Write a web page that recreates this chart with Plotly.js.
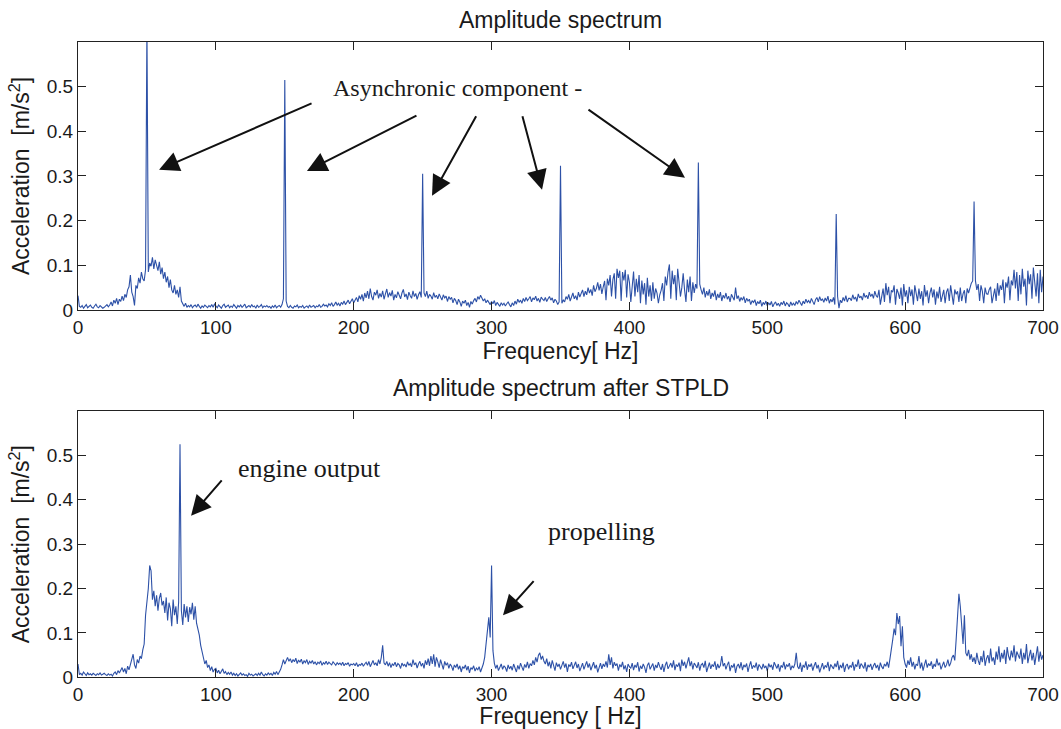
<!DOCTYPE html>
<html>
<head>
<meta charset="utf-8">
<script src="https://cdn.plot.ly/plotly-3.0.1.min.js"></script>
<style>html,body{margin:0;padding:0;background:#fff;}#chart{width:1061px;height:729px;}</style>
</head>
<body>
<div id="chart"></div>
<script>
// Frequency axis: 0 .. 700 Hz, one value per Hz
const freqStart = 0;
const freqStep = 1;
const xTickVals = [0, 100, 200, 300, 400, 500, 600, 700];
const yTickVals = [0, 0.1, 0.2, 0.3, 0.4, 0.5];
const yTickText = ['0', '0.1', '0.2', '0.3', '0.4', '0.5'];

const topTitle = 'Amplitude spectrum';
const bottomTitle = 'Amplitude spectrum after STPLD';
const topXTitle = 'Frequency[ Hz]';
const bottomXTitle = 'Frequency [ Hz]';
const yTitle = 'Acceleration&nbsp; [m/s<sup>2</sup>]';

// Amplitude spectrum (m/s^2), 0..700 Hz
const topAccel = [
0.032,0.008,0.006,0.010,0.004,0.009,0.012,0.005,0.007,0.011,
0.006,0.004,0.009,0.013,0.007,0.005,0.010,0.008,0.004,0.006,
0.009,0.012,0.007,0.011,0.018,0.009,0.022,0.015,0.026,0.012,
0.024,0.019,0.031,0.021,0.035,0.028,0.045,0.052,0.078,0.040,
0.030,0.010,0.055,0.048,0.072,0.060,0.085,0.070,0.065,0.090,
0.640,0.085,0.105,0.098,0.118,0.092,0.112,0.100,0.088,0.108,
0.080,0.095,0.070,0.085,0.062,0.075,0.050,0.068,0.045,0.038,
0.055,0.035,0.045,0.028,0.052,0.020,0.012,0.008,0.015,0.006,
0.010,0.007,0.012,0.005,0.009,0.011,0.006,0.013,0.008,0.004,
0.009,0.006,0.011,0.008,0.005,0.010,0.007,0.012,0.006,0.013,
0.009,0.005,0.011,0.007,0.004,0.010,0.013,0.006,0.008,0.011,
0.005,0.009,0.006,0.012,0.008,0.004,0.010,0.007,0.011,0.006,
0.009,0.013,0.005,0.008,0.010,0.006,0.012,0.007,0.009,0.004,
0.011,0.006,0.008,0.012,0.005,0.009,0.007,0.010,0.006,0.008,
0.004,0.009,0.006,0.011,0.005,0.008,0.010,0.006,0.012,0.025,
0.515,0.020,0.008,0.005,0.010,0.006,0.004,0.009,0.007,0.011,
0.005,0.008,0.006,0.010,0.004,0.007,0.009,0.005,0.011,0.006,
0.008,0.010,0.005,0.009,0.007,0.012,0.006,0.008,0.013,0.009,
0.011,0.007,0.014,0.010,0.016,0.008,0.012,0.018,0.011,0.015,
0.009,0.017,0.013,0.020,0.012,0.016,0.022,0.014,0.019,0.025,
0.016,0.021,0.028,0.018,0.032,0.024,0.035,0.020,0.038,0.027,
0.042,0.025,0.048,0.030,0.022,0.040,0.033,0.045,0.026,0.037,
0.029,0.043,0.024,0.036,0.047,0.028,0.039,0.031,0.044,0.022,
0.035,0.027,0.041,0.033,0.025,0.038,0.046,0.029,0.036,0.023,
0.040,0.032,0.026,0.043,0.030,0.037,0.024,0.034,0.041,0.028,
0.305,0.038,0.030,0.042,0.026,0.035,0.031,0.024,0.039,0.028,
0.033,0.025,0.036,0.029,0.022,0.034,0.027,0.031,0.019,0.030,
0.024,0.028,0.016,0.026,0.021,0.012,0.024,0.018,0.008,0.020,
0.015,0.022,0.010,0.017,0.006,0.019,0.013,0.021,0.026,0.018,
0.030,0.024,0.033,0.027,0.020,0.025,0.016,0.022,0.018,0.012,
0.019,0.014,0.021,0.010,0.017,0.013,0.008,0.016,0.011,0.015,
0.009,0.014,0.018,0.012,0.007,0.016,0.010,0.020,0.013,0.024,
0.017,0.022,0.015,0.026,0.019,0.028,0.021,0.025,0.030,0.018,
0.027,0.023,0.031,0.020,0.026,0.017,0.029,0.024,0.021,0.028,
0.019,0.025,0.030,0.022,0.027,0.016,0.024,0.020,0.012,0.018,
0.323,0.015,0.022,0.018,0.030,0.024,0.035,0.020,0.028,0.038,
0.025,0.032,0.022,0.040,0.029,0.036,0.045,0.030,0.042,0.034,
0.050,0.038,0.046,0.032,0.055,0.041,0.048,0.062,0.044,0.058,
0.036,0.052,0.065,0.022,0.070,0.055,0.078,0.030,0.068,0.082,
0.025,0.092,0.072,0.088,0.020,0.085,0.066,0.090,0.028,0.080,
0.062,0.018,0.048,0.086,0.030,0.070,0.040,0.078,0.015,0.066,
0.035,0.060,0.012,0.072,0.030,0.055,0.020,0.062,0.025,0.048,
0.038,0.015,0.034,0.044,0.060,0.020,0.075,0.055,0.085,0.102,
0.025,0.088,0.058,0.078,0.022,0.092,0.062,0.030,0.050,0.082,
0.045,0.018,0.068,0.040,0.075,0.020,0.062,0.038,0.058,0.048,
0.330,0.058,0.045,0.035,0.050,0.028,0.042,0.032,0.046,0.025,
0.038,0.030,0.044,0.022,0.036,0.027,0.040,0.020,0.033,0.026,
0.038,0.024,0.031,0.018,0.035,0.027,0.022,0.050,0.025,0.032,
0.019,0.028,0.022,0.030,0.016,0.026,0.020,0.024,0.012,0.021,
0.017,0.023,0.010,0.019,0.014,0.022,0.008,0.017,0.012,0.020,
0.009,0.016,0.011,0.019,0.007,0.014,0.018,0.010,0.015,0.008,
0.017,0.012,0.020,0.009,0.016,0.013,0.007,0.018,0.011,0.015,
0.010,0.019,0.013,0.022,0.016,0.010,0.020,0.014,0.024,0.017,
0.021,0.015,0.026,0.019,0.012,0.023,0.028,0.018,0.030,0.021,
0.025,0.017,0.027,0.020,0.031,0.015,0.024,0.018,0.028,0.012,
0.215,0.030,0.004,0.022,0.016,0.028,0.020,0.032,0.018,0.026,
0.026,0.021,0.034,0.024,0.029,0.019,0.036,0.027,0.031,0.022,
0.038,0.028,0.033,0.025,0.040,0.030,0.036,0.026,0.042,0.032,
0.028,0.045,0.012,0.030,0.048,0.018,0.060,0.033,0.052,0.015,
0.044,0.040,0.055,0.012,0.047,0.038,0.025,0.050,0.010,0.058,
0.030,0.044,0.015,0.052,0.031,0.046,0.012,0.055,0.040,0.020,
0.048,0.025,0.042,0.010,0.056,0.030,0.044,0.015,0.038,0.050,
0.028,0.046,0.012,0.041,0.026,0.052,0.018,0.030,0.045,0.015,
0.040,0.048,0.020,0.055,0.038,0.012,0.046,0.035,0.042,0.018,
0.050,0.020,0.036,0.044,0.015,0.048,0.038,0.052,0.060,0.065,
0.243,0.065,0.045,0.058,0.020,0.055,0.042,0.015,0.050,0.036,
0.035,0.046,0.052,0.015,0.028,0.048,0.020,0.060,0.032,0.055,
0.045,0.068,0.015,0.062,0.050,0.075,0.022,0.066,0.055,0.090,
0.048,0.085,0.020,0.078,0.035,0.092,0.052,0.070,0.010,0.088,
0.058,0.080,0.025,0.095,0.062,0.030,0.082,0.015,0.090,0.040,
0.075
];

// Amplitude spectrum after STPLD (m/s^2), 0..700 Hz
const bottomAccel = [
0.030,0.006,0.009,0.005,0.012,0.007,0.004,0.010,0.006,0.008,
0.005,0.009,0.007,0.004,0.008,0.006,0.010,0.005,0.007,0.009,
0.006,0.004,0.008,0.005,0.007,0.003,0.009,0.012,0.006,0.015,
0.010,0.018,0.022,0.012,0.020,0.008,0.025,0.017,0.030,0.038,
0.052,0.028,0.020,0.040,0.032,0.048,0.042,0.062,0.075,0.140,
0.165,0.200,0.252,0.240,0.175,0.195,0.160,0.185,0.150,0.178,
0.190,0.162,0.172,0.145,0.180,0.128,0.168,0.155,0.115,0.175,
0.140,0.160,0.120,0.170,0.525,0.150,0.118,0.165,0.135,0.160,
0.125,0.158,0.142,0.168,0.130,0.160,0.122,0.110,0.095,0.072,
0.060,0.048,0.030,0.038,0.022,0.028,0.015,0.024,0.012,0.018,
0.020,0.010,0.016,0.008,0.014,0.019,0.009,0.013,0.006,0.011,
0.007,0.012,0.005,0.009,0.004,0.008,0.003,0.007,0.010,0.005,
0.008,0.004,0.006,0.002,0.009,0.005,0.007,0.003,0.006,0.008,
0.004,0.009,0.005,0.012,0.006,0.003,0.008,0.005,0.010,0.006,
0.009,0.004,0.011,0.007,0.013,0.006,0.012,0.018,0.028,0.040,
0.030,0.038,0.045,0.036,0.042,0.033,0.040,0.035,0.043,0.031,
0.039,0.034,0.041,0.030,0.037,0.033,0.040,0.029,0.036,0.032,
0.038,0.030,0.035,0.028,0.034,0.031,0.037,0.027,0.033,0.030,
0.036,0.029,0.034,0.031,0.028,0.035,0.030,0.027,0.033,0.029,
0.032,0.028,0.034,0.026,0.031,0.029,0.033,0.025,0.030,0.028,
0.031,0.026,0.033,0.024,0.029,0.027,0.032,0.025,0.030,0.034,
0.027,0.036,0.024,0.031,0.038,0.028,0.033,0.026,0.040,0.030,
0.045,0.072,0.032,0.028,0.036,0.025,0.033,0.022,0.030,0.027,
0.034,0.024,0.031,0.028,0.020,0.032,0.026,0.029,0.023,0.035,
0.027,0.031,0.024,0.040,0.028,0.033,0.021,0.030,0.036,0.025,
0.032,0.020,0.038,0.028,0.042,0.026,0.048,0.030,0.052,0.024,
0.045,0.035,0.022,0.040,0.030,0.018,0.036,0.027,0.033,0.020,
0.030,0.025,0.015,0.028,0.022,0.030,0.018,0.026,0.012,0.024,
0.020,0.028,0.016,0.025,0.010,0.022,0.018,0.026,0.014,0.021,
0.017,0.024,0.012,0.020,0.030,0.045,0.080,0.110,0.135,0.090,
0.252,0.060,0.032,0.020,0.028,0.015,0.024,0.030,0.018,0.026,
0.022,0.013,0.028,0.019,0.025,0.016,0.030,0.021,0.012,0.027,
0.018,0.032,0.024,0.015,0.029,0.022,0.035,0.020,0.031,0.026,
0.038,0.028,0.045,0.034,0.050,0.055,0.040,0.048,0.036,0.030,
0.042,0.025,0.035,0.020,0.038,0.028,0.015,0.033,0.024,0.030,
0.018,0.027,0.036,0.022,0.031,0.012,0.029,0.024,0.034,0.019,
0.028,0.035,0.021,0.030,0.014,0.026,0.032,0.018,0.029,0.036,
0.022,0.031,0.016,0.027,0.034,0.020,0.028,0.011,0.025,0.032,
0.019,0.030,0.024,0.036,0.022,0.052,0.028,0.045,0.020,0.034,
0.026,0.031,0.015,0.029,0.023,0.035,0.018,0.027,0.012,0.030,
0.024,0.020,0.032,0.016,0.028,0.022,0.034,0.013,0.026,0.019,
0.030,0.023,0.010,0.027,0.033,0.018,0.025,0.031,0.015,0.028,
0.021,0.034,0.024,0.017,0.030,0.012,0.027,0.035,0.019,0.025,
0.032,0.022,0.038,0.016,0.029,0.024,0.033,0.014,0.040,0.026,
0.035,0.020,0.030,0.045,0.025,0.036,0.018,0.032,0.027,0.021,
0.034,0.015,0.028,0.031,0.022,0.037,0.012,0.026,0.033,0.019,
0.029,0.024,0.036,0.017,0.030,0.021,0.027,0.048,0.025,0.032,
0.018,0.028,0.035,0.014,0.027,0.022,0.031,0.010,0.025,0.030,
0.020,0.034,0.016,0.028,0.023,0.031,0.012,0.026,0.036,0.019,
0.027,0.022,0.033,0.015,0.029,0.024,0.018,0.030,0.021,0.026,
0.014,0.031,0.023,0.028,0.017,0.034,0.025,0.020,0.030,0.013,
0.027,0.022,0.035,0.018,0.029,0.024,0.032,0.016,0.026,0.021,
0.030,0.055,0.024,0.019,0.033,0.012,0.028,0.022,0.036,0.017,
0.029,0.024,0.031,0.015,0.026,0.034,0.020,0.028,0.011,0.025,
0.032,0.018,0.027,0.022,0.035,0.014,0.029,0.024,0.019,0.031,
0.023,0.037,0.016,0.028,0.021,0.033,0.012,0.026,0.030,0.018,
0.027,0.022,0.035,0.015,0.029,0.024,0.040,0.019,0.031,0.026,
0.020,0.034,0.013,0.028,0.023,0.030,0.017,0.026,0.032,0.021,
0.028,0.015,0.033,0.024,0.019,0.030,0.025,0.035,0.022,0.042,
0.060,0.085,0.110,0.095,0.145,0.120,0.138,0.070,0.115,0.045,
0.030,0.022,0.038,0.028,0.045,0.024,0.035,0.018,0.030,0.026,
0.048,0.020,0.033,0.015,0.028,0.040,0.022,0.031,0.026,0.036,
0.019,0.030,0.024,0.042,0.027,0.033,0.018,0.029,0.035,0.022,
0.028,0.040,0.025,0.032,0.045,0.050,0.038,0.085,0.140,0.188,
0.160,0.110,0.075,0.140,0.055,0.048,0.062,0.040,0.052,0.035,
0.045,0.030,0.055,0.038,0.028,0.048,0.034,0.060,0.026,0.042,
0.050,0.032,0.065,0.036,0.045,0.028,0.058,0.040,0.070,0.034,
0.055,0.042,0.062,0.030,0.068,0.048,0.038,0.060,0.045,0.072,
0.036,0.058,0.050,0.042,0.065,0.030,0.055,0.040,0.075,0.032,
0.048,0.062,0.038,0.055,0.028,0.045,0.070,0.035,0.058,0.040,
0.050
];

// Annotation texts
const topLabel = 'Asynchronic component -';
const engineLabel = 'engine output';
const turbineLabel = 'propelling';

const lineColor = '#2D51A7';
const sansFont = '"Liberation Sans", Arial, sans-serif';
const serifFont = '"Liberation Serif", "Times New Roman", serif';
const textColor = '#1a1a1a';

const traces = [
  {type: 'scatter', mode: 'lines', x0: freqStart, dx: freqStep, y: topAccel,
   xaxis: 'x', yaxis: 'y', line: {color: lineColor, width: 1.1}, hoverinfo: 'skip'},
  {type: 'scatter', mode: 'lines', x0: freqStart, dx: freqStep, y: bottomAccel,
   xaxis: 'x2', yaxis: 'y2', line: {color: lineColor, width: 1.1}, hoverinfo: 'skip'}
];

function xAxis(title, anchor, standoff) {
  return {
    anchor: anchor, domain: [0, 1], range: [0, 700],
    tickvals: xTickVals, ticks: 'inside', ticklen: 8, tickcolor: '#222',
    showline: true, linecolor: '#222', linewidth: 1, mirror: 'ticks',
    showgrid: false, zeroline: false,
    tickfont: {family: sansFont, size: 19, color: textColor},
    title: {text: title, font: {family: sansFont, size: 23, color: textColor}, standoff: standoff},
    fixedrange: true
  };
}
function yAxis(anchor, domain) {
  return {
    anchor: anchor, domain: domain, range: [0, 0.6],
    tickvals: yTickVals, ticktext: yTickText, ticks: 'inside', ticklen: 8, tickcolor: '#222',
    showline: true, linecolor: '#222', linewidth: 1, mirror: 'ticks',
    showgrid: false, zeroline: false,
    tickfont: {family: sansFont, size: 19, color: textColor},
    title: {text: yTitle, font: {family: sansFont, size: 23, color: textColor}, standoff: 10},
    fixedrange: true
  };
}

function arrow(xref, yref, hx, hy, tx, ty) {
  return {xref: xref, yref: yref, axref: xref, ayref: yref, x: hx, y: hy, ax: tx, ay: ty,
    text: '', showarrow: true, arrowhead: 2, arrowsize: 2, arrowwidth: 2, arrowcolor: '#111'};
}

const layout = {
  width: 1061, height: 729,
  margin: {l: 78, r: 18, t: 0, b: 0},
  paper_bgcolor: '#fff', plot_bgcolor: '#fff',
  showlegend: false,
  xaxis: xAxis(topXTitle, 'y', 4),
  yaxis: yAxis('x', [0.5748, 0.9424]),
  xaxis2: xAxis(bottomXTitle, 'y2', 6),
  yaxis2: yAxis('x2', [0.0709, 0.4362]),
  annotations: [
    {xref: 'paper', yref: 'paper', x: 0.5, y: 0.9726, text: topTitle, showarrow: false,
     xanchor: 'center', yanchor: 'middle', font: {family: sansFont, size: 23, color: textColor}},
    {xref: 'paper', yref: 'paper', x: 0.5, y: 0.4678, text: bottomTitle, showarrow: false,
     xanchor: 'center', yanchor: 'middle', font: {family: sansFont, size: 23, color: textColor}},
    {xref: 'x', yref: 'y', x: 275, y: 0.498, text: topLabel, showarrow: false,
     xanchor: 'center', yanchor: 'middle', font: {family: serifFont, size: 24, color: textColor}},
    {xref: 'x2', yref: 'y2', x: 167.6, y: 0.471, text: engineLabel, showarrow: false,
     xanchor: 'center', yanchor: 'middle', font: {family: serifFont, size: 26, color: textColor}},
    {xref: 'x2', yref: 'y2', x: 380, y: 0.328, text: turbineLabel, showarrow: false,
     xanchor: 'center', yanchor: 'middle', font: {family: serifFont, size: 26, color: textColor}},
    arrow('x', 'y', 58.8, 0.314, 170.5, 0.464),
    arrow('x', 'y', 166.1, 0.311, 246.6, 0.437),
    arrow('x', 'y', 256.8, 0.256, 289.4, 0.437),
    arrow('x', 'y', 336.6, 0.269, 322.1, 0.437),
    arrow('x', 'y', 440.3, 0.296, 369.2, 0.451),
    arrow('x2', 'y2', 82, 0.364, 105.2, 0.447),
    arrow('x2', 'y2', 308.3, 0.140, 331.5, 0.220)
  ]
};

Plotly.newPlot('chart', traces, layout, {staticPlot: true, displayModeBar: false});
</script>
</body>
</html>
